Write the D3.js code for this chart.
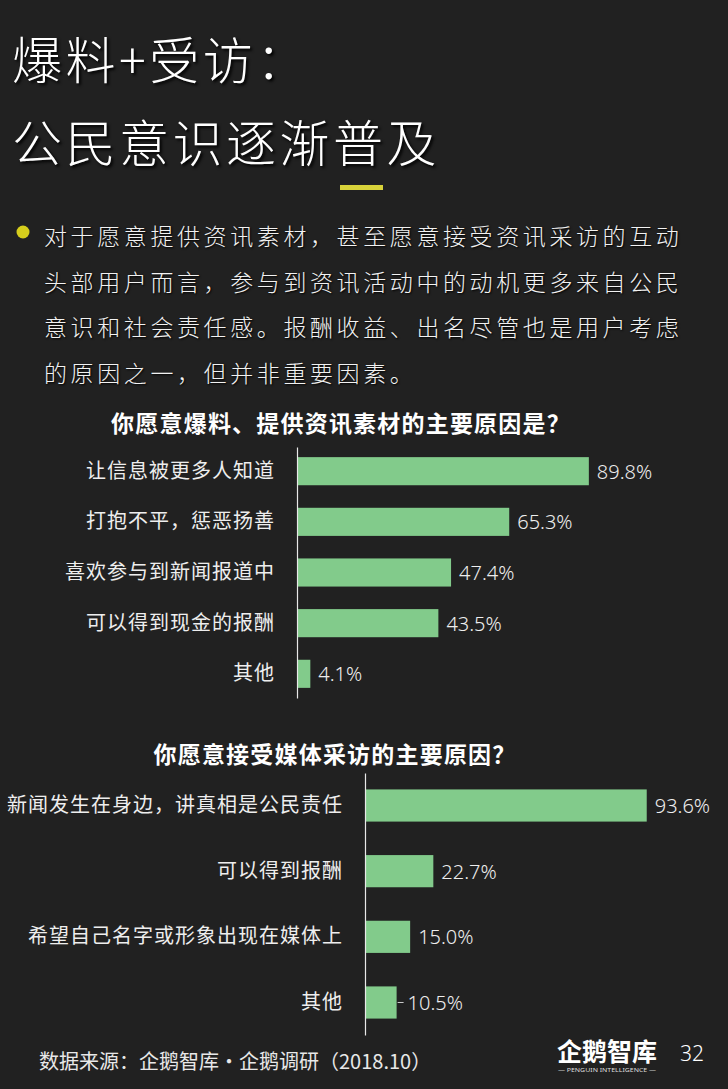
<!DOCTYPE html>
<html>
<head>
<meta charset="utf-8">
<script src="https://cdn.jsdelivr.net/npm/d3@7"></script>
<style>
  html, body { margin: 0; padding: 0; background: #212121; }
  svg { display: block; }
  text { font-family: "Noto Sans CJK SC", "Noto Sans", sans-serif; }
  .num { font-family: "Noto Sans", "Noto Sans CJK SC", sans-serif; font-weight: 300; }
</style>
</head>
<body>
<svg id="chart"></svg>
<script>
const width = 728,
    height = 1089;

// page text
const titleLines = ['爆料+受访：', '公民意识逐渐普及'];
const bulletLines = [
  '对于愿意提供资讯素材，甚至愿意接受资讯采访的互动',
  '头部用户而言，参与到资讯活动中的动机更多来自公民',
  '意识和社会责任感。报酬收益、出名尽管也是用户考虑',
  '的原因之一，但并非重要因素。'
];

// chart 1
const title1 = '你愿意爆料、提供资讯素材的主要原因是？';
const reasons1 = ['让信息被更多人知道', '打抱不平，惩恶扬善', '喜欢参与到新闻报道中', '可以得到现金的报酬', '其他'];
const values1 = [89.8, 65.3, 47.4, 43.5, 4.1];

// chart 2
const title2 = '你愿意接受媒体采访的主要原因？';
const reasons2 = ['新闻发生在身边，讲真相是公民责任', '可以得到报酬', '希望自己名字或形象出现在媒体上', '其他'];
const values2 = [93.6, 22.7, 15.0, 10.5];

const source = '数据来源：企鹅智库·企鹅调研（2018.10）';
const pageNo = '32';

const barColor = '#82cb8b';
const textColor = '#eeeeee';

const svg = d3.select('#chart')
    .attr('width', width)
    .attr('height', height)
    .style('background', '#212121');

// Big title
svg.append('g')
  .selectAll('text')
  .data(titleLines)
  .join('text')
    .attr('x', 12)
    .attr('y', (d, i) => 57 + i * 83)
    .attr('dominant-baseline', 'central')
    .attr('fill', '#ffffff')
    .style('font-size', '50px')
    .style('font-weight', 300)
    .style('letter-spacing', '3.5px')
    .style('text-shadow', '2px 2px 3px #000')
    .text(d => d);

// yellow underline
svg.append('rect')
    .attr('x', 340)
    .attr('y', 185)
    .attr('width', 43)
    .attr('height', 5)
    .attr('fill', '#d8d23a');

// bullet paragraph
svg.append('circle')
    .attr('cx', 23)
    .attr('cy', 232)
    .attr('r', 6.5)
    .attr('fill', '#d6ce1c');

svg.append('g')
  .selectAll('text')
  .data(bulletLines)
  .join('text')
    .attr('x', 44)
    .attr('y', (d, i) => 235 + i * 45.7)
    .attr('dominant-baseline', 'central')
    .attr('fill', '#f2f2f2')
    .style('font-size', '23px')
    .style('font-weight', 300)
    .style('letter-spacing', '3.6px')
    .style('text-shadow', '1px 1px 2px #000')
    .text(d => d);

function barChart(opts) {
  const g = svg.append('g');

  g.append('text')
      .attr('x', opts.titleX)
      .attr('y', opts.titleY)
      .attr('text-anchor', 'middle')
      .attr('dominant-baseline', 'central')
      .attr('fill', '#ffffff')
      .style('font-size', '23px')
      .style('font-weight', 'bold')
      .style('letter-spacing', '1.2px')
      .text(opts.title);

  const x = d3.scaleLinear()
      .domain([0, 100])
      .range([opts.x0, opts.x0 + opts.pxPer100]);

  const y = d3.scaleBand()
      .domain(opts.reasons)
      .range([opts.top, opts.bottom])
      .paddingInner(opts.padIn)
      .paddingOuter(opts.padOut);

  const data = opts.reasons.map((r, i) => ({ reason: r, value: opts.values[i] }));

  // bars
  g.append('g')
    .selectAll('rect')
    .data(data)
    .join('rect')
      .attr('x', x(0))
      .attr('y', d => y(d.reason))
      .attr('width', d => x(d.value) - x(0))
      .attr('height', y.bandwidth())
      .attr('fill', barColor);

  // axis with category labels
  const axis = g.append('g')
      .attr('transform', `translate(${x(0)},0)`)
      .call(d3.axisLeft(y).tickSize(0).tickSizeOuter(0).tickPadding(22));
  axis.select('.domain')
      .attr('stroke', '#e8e8e8')
      .attr('stroke-width', 1.2);
  axis.selectAll('text')
      .attr('fill', textColor)
      .style('font-size', '20px')
      .style('letter-spacing', '1px')
      .style('font-family', '"Noto Sans CJK SC", sans-serif');

  // value labels
  g.append('g')
    .selectAll('text')
    .data(data)
    .join('text')
      .attr('class', 'num')
      .attr('x', (d, i) => x(d.value) + (opts.leader && i === data.length - 1 ? 11 : 8))
      .attr('y', d => y(d.reason) + y.bandwidth() / 2)
      .attr('dominant-baseline', 'central')
      .attr('fill', textColor)
      .style('font-size', '20px')
      .text(d => d.value.toFixed(1) + '%');

  if (opts.leader) {
    const last = data[data.length - 1];
    g.append('line')
        .attr('x1', x(last.value) + 1)
        .attr('x2', x(last.value) + 7)
        .attr('y1', y(last.reason) + y.bandwidth() / 2)
        .attr('y2', y(last.reason) + y.bandwidth() / 2)
        .attr('stroke', '#cccccc')
        .attr('stroke-width', 1);
  }
}

barChart({
  title: title1, titleX: 341, titleY: 422,
  reasons: reasons1, values: values1,
  x0: 297, pxPer100: 325,
  top: 447, bottom: 698, padIn: 0.445, padOut: 0.2
});

barChart({
  title: title2, titleX: 335, titleY: 753,
  reasons: reasons2, values: values2,
  x0: 365, pxPer100: 301,
  top: 773, bottom: 1035, padIn: 0.51, padOut: 0.25,
  leader: true
});

// footer
svg.append('text')
    .attr('x', 39)
    .attr('y', 1060)
    .attr('dominant-baseline', 'central')
    .attr('fill', '#e8e8e8')
    .style('font-size', '20px')
    .text(source);

// logo
svg.append('text')
    .attr('x', 557)
    .attr('y', 1050)
    .attr('dominant-baseline', 'central')
    .attr('fill', '#ffffff')
    .style('font-size', '25px')
    .style('font-weight', 'bold')
    .text('企鹅智库');

svg.append('text')
    .attr('x', 558)
    .attr('y', 1070)
    .attr('dominant-baseline', 'central')
    .attr('fill', '#dddddd')
    .attr('textLength', 98)
    .attr('lengthAdjust', 'spacingAndGlyphs')
    .style('font-size', '6px')
    .style('font-family', '"Noto Sans", sans-serif')
    .text('— PENGUIN INTELLIGENCE —');

svg.append('text')
    .attr('class', 'num')
    .attr('x', 680)
    .attr('y', 1053)
    .attr('dominant-baseline', 'central')
    .attr('fill', '#ffffff')
    .style('font-size', '21px')
    .text(pageNo);
</script>
</body>
</html>
